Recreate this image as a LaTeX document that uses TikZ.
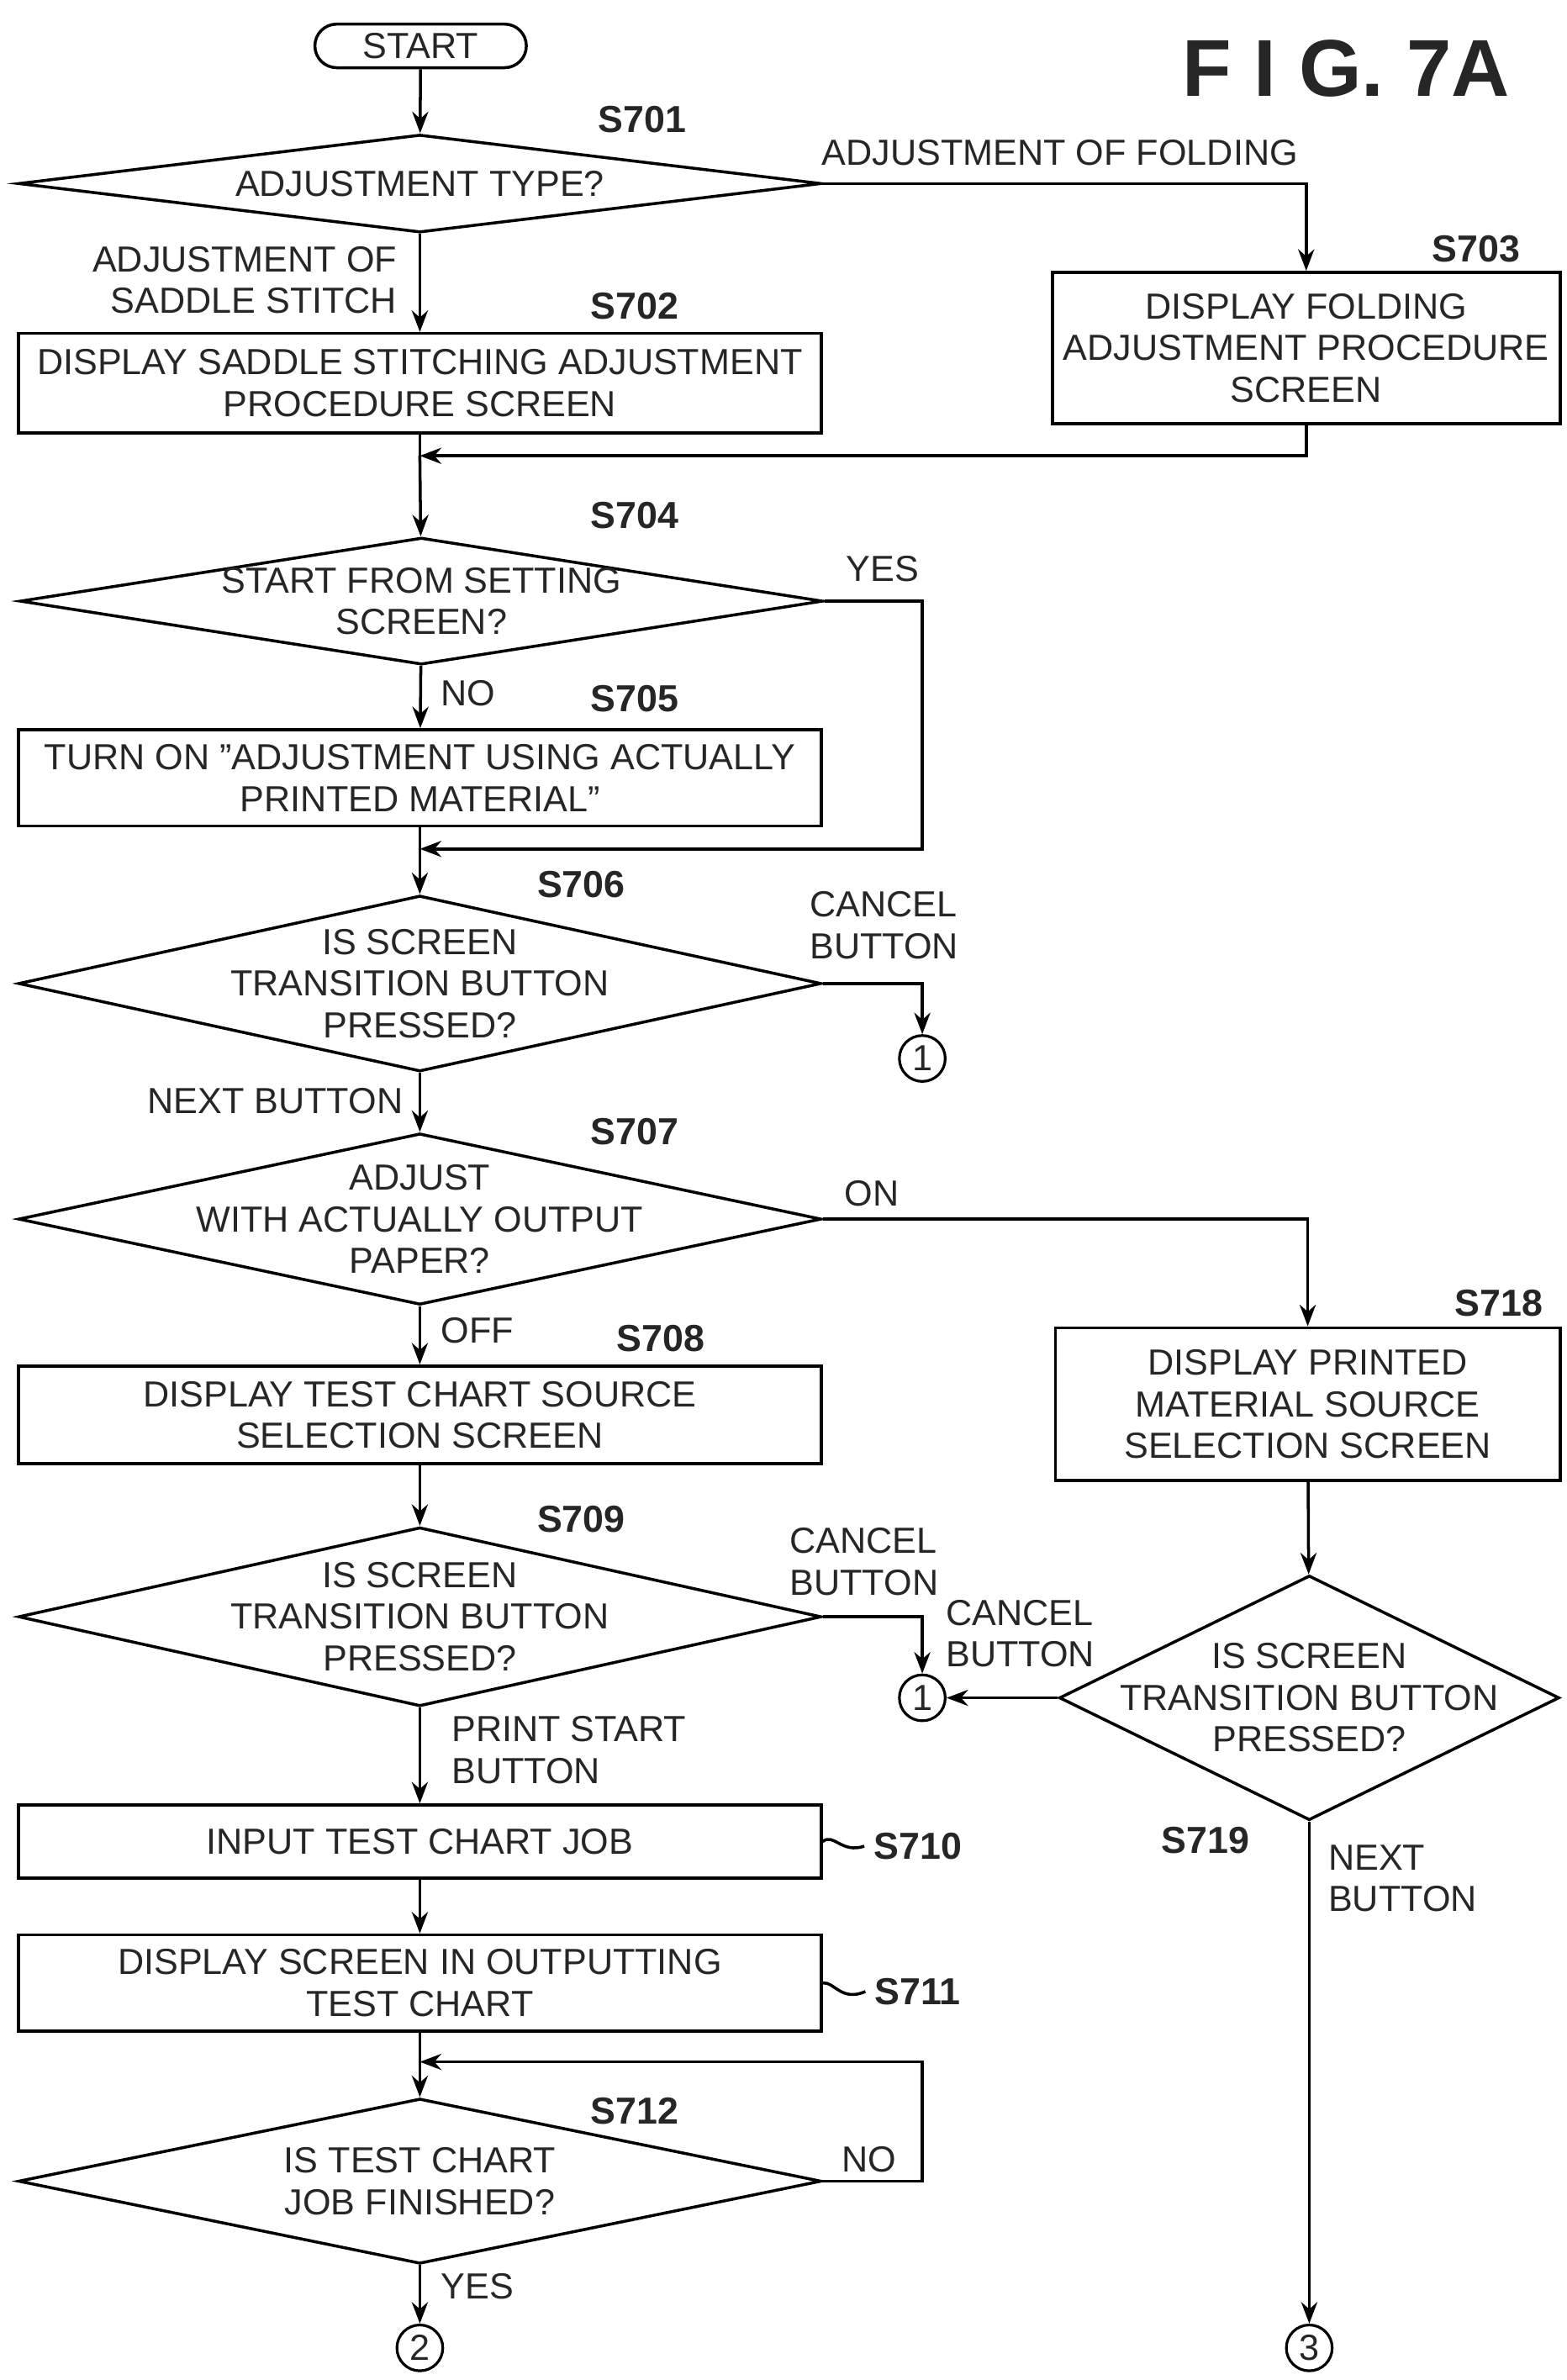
\documentclass[tikz,border=0pt]{standalone}
\usepackage{fontspec}
\setmainfont{Liberation Sans}
\usetikzlibrary{shapes.geometric,shapes.misc,arrows.meta}

\begin{document}
\begin{tikzpicture}[x=0.02cm,y=-0.02cm,
    every node/.style={font=\fontsize{13.5}{15.5}\selectfont, text=black!85},
    box/.style={draw, line width=1.1pt, minimum width=10.5cm, inner sep=0pt},
    dia/.style={draw, diamond, line width=1.1pt, inner sep=0pt, minimum width=10.5cm},
    con/.style={draw, circle, line width=1pt, minimum size=0.6cm, inner sep=0pt},
    stepno/.style={font=\bfseries\fontsize{14}{16}\selectfont},
    flow/.style={line width=1.1pt, -{Stealth[length=8pt,width=6pt]}},
    line/.style={line width=1.1pt}]
          \useasboundingbox (0,0) rectangle (1024,1556);
          \node[draw, rounded rectangle, line width=1.1pt, minimum width=3cm, minimum height=0.56cm] (start) at (275,30) {START};
          \node[font=\bfseries\fontsize{30}{30}\selectfont] (fig) at (880,45) {F I G. 7A};
          % left column
          \node[dia, minimum height=1.28cm] (d701) at (274.5,120) {};
          \node (t701) at (d701) {ADJUSTMENT TYPE?};
          \node[box, minimum height=1.3cm, align=center] (s702) at (274.5,250.5) {DISPLAY SADDLE STITCHING ADJUSTMENT\\PROCEDURE SCREEN};
          \node[box, minimum width=6.64cm, minimum height=1.98cm, align=center] (s703) at (854,227.5) {DISPLAY FOLDING\\ADJUSTMENT PROCEDURE\\SCREEN};
          \node[dia, minimum height=1.66cm] (d704) at (275.5,393) {};
          \node[align=center] (t704) at (d704) {START FROM SETTING\\SCREEN?};
          \node[box, minimum height=1.26cm, align=center] (s705) at (274.5,508.5) {TURN ON \symbol{34}ADJUSTMENT USING ACTUALLY\\PRINTED MATERIAL\symbol{34}};
          \node[dia, minimum height=2.3cm] (d706) at (274.5,643) {};
          \node[align=center] (t706) at (d706) {IS SCREEN\\TRANSITION BUTTON\\PRESSED?};
          \node[dia, minimum height=2.24cm] (d707) at (274.5,797) {};
          \node[align=center] (t707) at (d707) {ADJUST\\WITH ACTUALLY OUTPUT\\PAPER?};
          \node[box, minimum height=1.28cm, align=center] (s708) at (274.5,925) {DISPLAY TEST CHART SOURCE\\SELECTION SCREEN};
          \node[dia, minimum height=2.34cm] (d709) at (274.5,1057) {};
          \node[align=center] (t709) at (d709) {IS SCREEN\\TRANSITION BUTTON\\PRESSED?};
          \node[box, minimum height=0.96cm] (s710) at (274.5,1204) {INPUT TEST CHART JOB};
          \node[box, minimum height=1.26cm, align=center] (s711) at (274.5,1296.5) {DISPLAY SCREEN IN OUTPUTTING\\TEST CHART};
          \node[dia, minimum height=2.16cm] (d712) at (274.5,1426) {};
          \node[align=center] (t712) at (d712) {IS TEST CHART\\JOB FINISHED?};
          % right column
          \node[box, minimum width=6.6cm, minimum height=2cm, align=center] (s718) at (855,918) {DISPLAY PRINTED\\MATERIAL SOURCE\\SELECTION SCREEN};
          \node[dia, minimum width=6.54cm, minimum height=3.2cm] (d719) at (856,1110) {};
          \node[align=center] (t719) at (d719) {IS SCREEN\\TRANSITION BUTTON\\PRESSED?};
          % connectors
          \node[con] (c1a) at (603,692) {1};
          \node[con] (c1b) at (603,1110) {1};
          \node[con] (c2) at (274.5,1535) {2};
          \node[con] (c3) at (856,1535) {3};
          \coordinate (m703) at (274.5,298);
          \coordinate (m704) at (274.5,555);
          \coordinate (m712) at (274.5,1348);
          % step labels
          \node[stepno] (l701) at (420,78) {S701};
          \node[stepno] (l702) at (415,200) {S702};
          \node[stepno] (l703) at (965,163) {S703};
          \node[stepno] (l704) at (415,337) {S704};
          \node[stepno] (l705) at (415,457) {S705};
          \node[stepno] (l706) at (380,578) {S706};
          \node[stepno] (l707) at (415,740) {S707};
          \node[stepno] (l708) at (432,875) {S708};
          \node[stepno] (l709) at (380,993) {S709};
          \node[stepno] (l710) at (600,1207) {S710};
          \node[stepno] (l711) at (600,1302) {S711};
          \node[stepno] (l712) at (415,1380) {S712};
          \node[stepno] (l718) at (980,852) {S718};
          \node[stepno] (l719) at (788,1203) {S719};
          \draw[line] (s710.east) .. controls (545,1198) and (550,1212) .. (l710.west);
          \draw[line] (s711.east) .. controls (545,1295) and (550,1309) .. (l711.west);
          % branch texts
          \node (b701) at (693,100) {ADJUSTMENT OF FOLDING};
          \node[align=right] (b701s) at (160,183) {ADJUSTMENT OF\\SADDLE STITCH};
          \node (b704y) at (577,372) {YES};
          \node (b704n) at (306,453) {NO};
          \node[align=left] (b706c) at (578,605) {CANCEL\\BUTTON};
          \node (b706n) at (180,720) {NEXT BUTTON};
          \node (b707on) at (570,780) {ON};
          \node (b707off) at (312,870) {OFF};
          \node[align=left] (b709c) at (565,1021) {CANCEL\\BUTTON};
          \node[align=left] (b709p) at (372,1144) {PRINT START\\BUTTON};
          \node[align=left] (b719c) at (667,1068) {CANCEL\\BUTTON};
          \node[align=left] (b719n) at (917,1228) {NEXT\\BUTTON};
          \node (b712n) at (568,1412) {NO};
          \node (b712y) at (312,1495) {YES};
          % flow lines
          \draw[flow] (start) -- (d701);
          \draw[flow] (d701) -- (s702);
          \draw[flow] (d701.east) -| (s703.north);
          \draw[line] (s702) -- (m703);
          \draw[flow] (s703.south) |- (m703);
          \draw[flow] (m703) -- (d704);
          \draw[flow] (d704) -- (s705);
          \draw[line] (s705) -- (m704);
          \draw[flow] (d704.east) -| (603,450) |- (m704);
          \draw[flow] (m704) -- (d706);
          \draw[flow] (d706.east) -| (c1a);
          \draw[flow] (d706) -- (d707);
          \draw[flow] (d707.east) -| (s718.north);
          \draw[flow] (d707) -- (s708);
          \draw[flow] (s708) -- (d709);
          \draw[flow] (d709.east) -| (c1b);
          \draw[flow] (d709) -- (s710);
          \draw[flow] (s710) -- (s711);
          \draw[line] (s711) -- (m712);
          \draw[flow] (m712) -- (d712);
          \draw[flow] (d712.east) -| (603,1390) |- (m712);
          \draw[flow] (d712) -- (c2);
          \draw[flow] (s718) -- (d719);
          \draw[flow] (d719.west) -- (c1b);
          \draw[flow] (d719.south) -- (c3);
        \end{tikzpicture}
\end{document}
